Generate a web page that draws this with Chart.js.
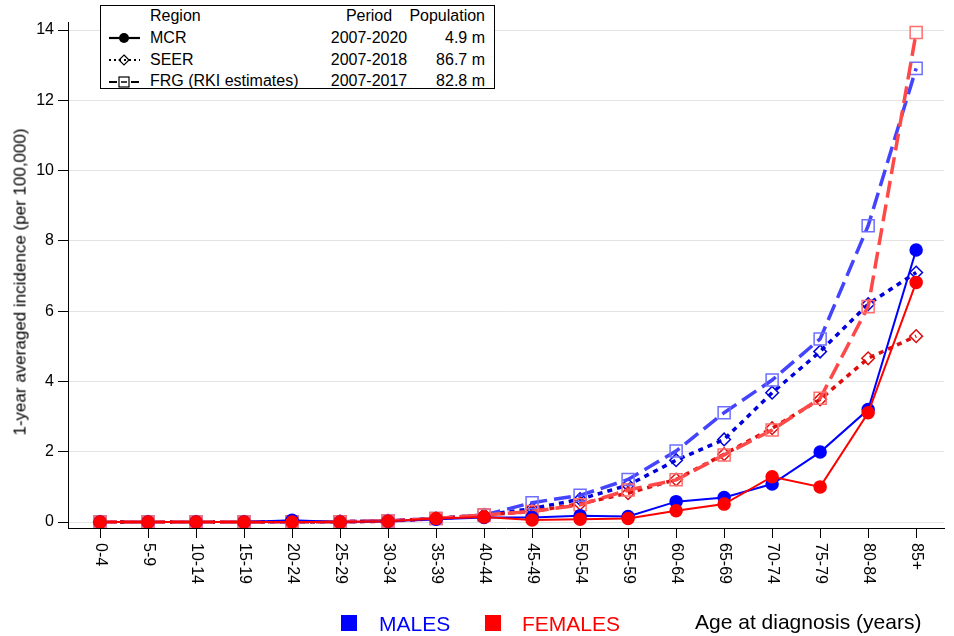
<!DOCTYPE html>
<html>
<head>
<meta charset="utf-8">
<script src="https://cdn.jsdelivr.net/npm/chart.js@4/dist/chart.umd.min.js"></script>
<style>
  html, body { margin: 0; padding: 0; background: #fff; }
  #wrap { position: relative; width: 954px; height: 636px; font-family: "Liberation Sans", Arial, sans-serif; }
  #chart { position: absolute; left: 0; top: 0; }
  .t { position: absolute; white-space: nowrap; line-height: 1; }
  #legendBox { position: absolute; left: 100px; top: 5px; width: 393px; height: 82px; border: 1px solid #000; background: #fff; }
  .lg { font-size: 16px; color: #000; }
  .sq { position: absolute; width: 16px; height: 16px; }
</style>
</head>
<body>
<div id="wrap">
  <canvas id="chart" width="954" height="636"></canvas>

  <div id="legendBox"></div>
  <svg style="position:absolute;left:100px;top:5px" width="45" height="84">
    <line x1="9" y1="33" x2="40" y2="33" stroke="#000" stroke-width="2.2"/>
    <circle cx="24" cy="33" r="5" fill="#000"/>
    <line x1="9" y1="55" x2="40" y2="55" stroke="#000" stroke-width="2" stroke-dasharray="2,3"/>
    <polygon points="24,50 29,55 24,60 19,55" fill="none" stroke="#000" stroke-width="1.2"/>
    <line x1="9" y1="77" x2="40" y2="77" stroke="#000" stroke-width="2.2" stroke-dasharray="8,3"/>
    <rect x="19" y="72" width="10" height="10" fill="#fff" stroke="#000" stroke-width="1.2"/>
    <line x1="21" y1="77" x2="27" y2="77" stroke="#000" stroke-width="1.5"/>
  </svg>
  <div class="t lg" style="left:150px;top:8px">Region</div>
  <div class="t lg" style="left:329px;top:8px;width:80px;text-align:center">Period</div>
  <div class="t lg" style="left:405px;top:8px;width:80px;text-align:right">Population</div>
  <div class="t lg" style="left:150px;top:30px">MCR</div>
  <div class="t lg" style="left:329px;top:30px;width:80px;text-align:center">2007-2020</div>
  <div class="t lg" style="left:405px;top:30px;width:80px;text-align:right">4.9 m</div>
  <div class="t lg" style="left:150px;top:52px">SEER</div>
  <div class="t lg" style="left:329px;top:52px;width:80px;text-align:center">2007-2018</div>
  <div class="t lg" style="left:405px;top:52px;width:80px;text-align:right">86.7 m</div>
  <div class="t lg" style="left:150px;top:73px">FRG (RKI estimates)</div>
  <div class="t lg" style="left:329px;top:73px;width:80px;text-align:center">2007-2017</div>
  <div class="t lg" style="left:405px;top:73px;width:80px;text-align:right">82.8 m</div>

  <div class="t" style="left:20px;top:282px;font-size:17px;color:#000;transform:translate(-50%,-50%) rotate(-90deg)">1-year averaged incidence (per 100,000)</div>

  <div class="sq" style="left:341px;top:615px;background:#0000ff"></div>
  <div class="t" style="left:379px;top:613px;font-size:21px;color:#0000ff">MALES</div>
  <div class="sq" style="left:485px;top:615px;background:#ff0000"></div>
  <div class="t" style="left:522px;top:613px;font-size:21px;color:#ff0000">FEMALES</div>
  <div class="t" style="left:695px;top:611px;font-size:21px;color:#000">Age at diagnosis (years)</div>
</div>

<script>
// Age groups at diagnosis
const ageGroups = ['0-4','5-9','10-14','15-19','20-24','25-29','30-34','35-39','40-44',
  '45-49','50-54','55-59','60-64','65-69','70-74','75-79','80-84','85+'];

// 1-year averaged incidence per 100,000
const mcrMales     = [0, 0, 0, 0, 0.05, 0, 0.02, 0.08, 0.13, 0.13, 0.18, 0.16, 0.58, 0.70, 1.08, 1.99, 3.20, 7.74];
const mcrFemales   = [0, 0, 0, 0, 0, 0, 0.02, 0.10, 0.14, 0.06, 0.08, 0.10, 0.32, 0.51, 1.29, 1.00, 3.11, 6.82];
const seerMales    = [0, 0, 0, 0, 0.01, 0.01, 0.03, 0.10, 0.20, 0.38, 0.65, 1.05, 1.76, 2.35, 3.68, 4.85, 6.20, 7.10];
const seerFemales  = [0, 0, 0, 0, 0.01, 0.01, 0.02, 0.10, 0.20, 0.30, 0.52, 0.82, 1.21, 1.93, 2.67, 3.49, 4.66, 5.29];
const frgMales     = [0, 0, 0, 0, 0.01, 0.01, 0.03, 0.10, 0.20, 0.55, 0.76, 1.21, 2.02, 3.11, 4.04, 5.21, 8.43, 12.91];
const frgFemales   = [0, 0, 0, 0, 0.01, 0.01, 0.03, 0.10, 0.20, 0.30, 0.49, 0.91, 1.20, 1.91, 2.62, 3.52, 6.13, 13.93];

// y-axis tick values
const yTicks = [0, 2, 4, 6, 8, 10, 12, 14];

const toPoints = arr => arr.map((v, i) => ({ x: i, y: v }));

function series(data, o) {
  return Object.assign({
    data: toPoints(data),
    fill: false,
    tension: 0,
    pointBorderWidth: 1.5,
    pointHoverRadius: 0
  }, o);
}

const datasets = [
  series(mcrFemales, { label: 'MCR females', borderColor: '#ff0000', backgroundColor: '#ff0000',
    borderWidth: 2, pointStyle: 'circle', pointRadius: 6, order: 1 }),
  series(mcrMales, { label: 'MCR males', borderColor: '#0000ff', backgroundColor: '#0000ff',
    borderWidth: 2, pointStyle: 'circle', pointRadius: 6, order: 2 }),
  series(frgFemales, { label: 'FRG females', borderColor: '#ff4848', backgroundColor: 'rgba(0,0,0,0)',
    pointBorderColor: '#ff6e6e', borderWidth: 3.5, borderDash: [17, 7], pointStyle: 'rect', pointRadius: 8.5, order: 3 }),
  series(frgMales, { label: 'FRG males', borderColor: '#4444ff', backgroundColor: 'rgba(0,0,0,0)',
    pointBorderColor: '#6e6eff', borderWidth: 3.5, borderDash: [17, 7], pointStyle: 'rect', pointRadius: 8.5, order: 4 }),
  series(seerFemales, { label: 'SEER females', borderColor: '#dc0e0e', backgroundColor: 'rgba(0,0,0,0)',
    borderWidth: 3.5, borderDash: [5, 5], pointStyle: 'rectRot', pointRadius: 6.3, order: 5 }),
  series(seerMales, { label: 'SEER males', borderColor: '#0000dc', backgroundColor: 'rgba(0,0,0,0)',
    borderWidth: 3.5, borderDash: [5, 5], pointStyle: 'rectRot', pointRadius: 6.3, order: 6 })
];

// Age-group labels, written top-to-bottom under each tick
const ageLabelsPlugin = {
  id: 'ageLabels',
  afterDraw(chart) {
    const sx = chart.scales.x;
    const ctx = chart.ctx;
    ctx.save();
    ctx.font = '16px "Liberation Sans", Arial, sans-serif';
    ctx.fillStyle = '#000';
    ctx.textAlign = 'left';
    ctx.textBaseline = 'middle';
    ageGroups.forEach((lab, i) => {
      const x = sx.getPixelForValue(i);
      ctx.save();
      ctx.translate(x, sx.top + 15);
      ctx.rotate(Math.PI / 2);
      ctx.fillText(lab, 0, 0);
      ctx.restore();
    });
    ctx.restore();
  }
};

new Chart(document.getElementById('chart'), {
  type: 'line',
  data: { datasets },
  plugins: [ageLabelsPlugin],
  options: {
    responsive: false,
    animation: false,
    layout: { padding: { top: 22, right: 0, left: 0, bottom: 0 } },
    plugins: { legend: { display: false }, tooltip: { enabled: false } },
    scales: {
      x: {
        type: 'linear',
        min: -0.667,
        max: 17.58,
        afterBuildTicks: s => { s.ticks = ageGroups.map((_, i) => ({ value: i })); },
        afterFit: s => { s.height = 108; },
        ticks: { display: false },
        grid: { drawOnChartArea: false, drawTicks: true, tickLength: 10, tickColor: '#000', tickWidth: 1 },
        border: { color: '#000', width: 1 }
      },
      y: {
        type: 'linear',
        min: -0.17,
        max: 14.23,
        afterBuildTicks: s => { s.ticks = yTicks.map(v => ({ value: v })); },
        afterFit: s => { s.width = 68; },
        ticks: {
          color: '#000',
          padding: 4,
          font: { family: '"Liberation Sans", Arial, sans-serif', size: 16 },
          callback: v => String(v)
        },
        grid: { color: '#e3e3e3', lineWidth: 1, drawTicks: true, tickLength: 10, tickColor: '#000', tickWidth: 1 },
        border: { color: '#000', width: 1 }
      }
    }
  }
});
</script>
</body>
</html>
